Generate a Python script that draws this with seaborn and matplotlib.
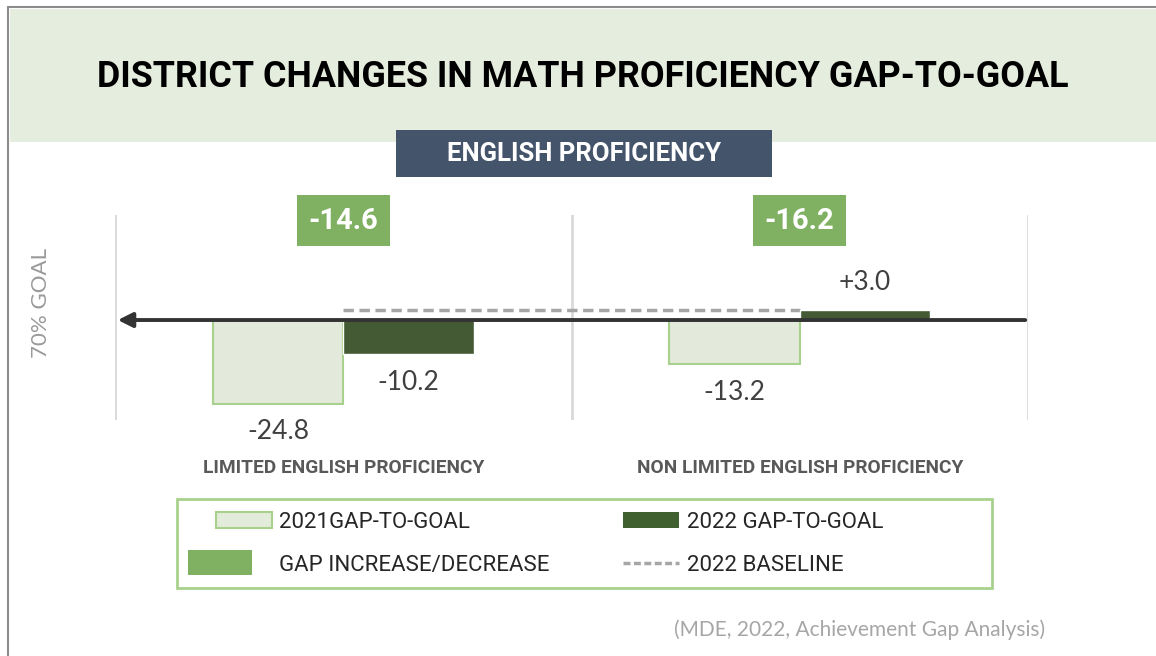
import seaborn as sns
import matplotlib.pyplot as plt
import pandas as pd
from matplotlib.patches import Patch, Rectangle
from matplotlib.lines import Line2D
from matplotlib.legend_handler import HandlerPatch

# data
categories = ['LIMITED ENGLISH PROFICIENCY', 'NON LIMITED ENGLISH PROFICIENCY']
series = ['2021GAP-TO-GOAL', '2022 GAP-TO-GOAL']
gap_2021 = [-24.8, -13.2]
gap_2022 = [-10.2, 3.0]
gap_change = [-14.6, -16.2]
baseline_2022 = 3.0

df = pd.DataFrame({
    'category': categories * 2,
    'series': [series[0]] * 2 + [series[1]] * 2,
    'value': gap_2021 + gap_2022,
})

light = '#E3ECDA'
light_edge = '#A9D18E'
dark = '#41602F'
mid = '#80B062'
slate = '#44546A'
narrow = ['Roboto', 'DejaVu Sans']

sns.set_theme(style='white')
plt.rcParams['font.family'] = ['Lato', 'DejaVu Sans']

W, H = 1156, 656
fig = plt.figure(figsize=(W / 100, H / 100), dpi=100)


def fx(px):
    return px / W


def fy(py):
    return 1 - py / H


# page frame, header band and subtitle box
fig.add_artist(Line2D([fx(8), 1], [fy(7), fy(7)], color='#8C8C8C', lw=1.5))
fig.add_artist(Line2D([fx(8), fx(8)], [fy(7), 0], color='#8C8C8C', lw=1.5))
fig.patches.append(Rectangle((fx(10), fy(142)), 1 - fx(10), fy(9) - fy(142),
                             transform=fig.transFigure, facecolor='#E5EDDF', edgecolor='none'))
fig.text(fx(583), fy(77), 'DISTRICT CHANGES IN MATH PROFICIENCY GAP-TO-GOAL', ha='center', va='center',
         fontsize=25.8, fontweight='bold', color='black', family=narrow)
fig.patches.append(Rectangle((fx(396), fy(177)), fx(376), 47 / H,
                             transform=fig.transFigure, facecolor=slate, edgecolor='none', zorder=3))
fig.text(fx(584), fy(154), 'ENGLISH PROFICIENCY', ha='center', va='center', fontsize=18.5,
         fontweight='bold', color='white', family=narrow, zorder=4)

ax = fig.add_axes([fx(115), fy(420), fx(1028 - 115), 205 / H])
sns.barplot(data=df, x='category', y='value', hue='series', order=categories, hue_order=series,
            palette={series[0]: light, series[1]: dark}, width=0.572, errorbar=None,
            legend=False, ax=ax, zorder=3)
for bar in ax.containers[0]:
    bar.set_edgecolor(light_edge)
    bar.set_linewidth(1.5)

for c, vals in zip(ax.containers, [gap_2021, gap_2022]):
    ax.bar_label(c, labels=[f'{v:+.1f}' if v > 0 else f'{v:.1f}' for v in vals], padding=11,
                 fontsize=19, color='#404040')

ax.set_xlim(-0.5, 1.5)
ax.set_ylim(-29.7, 31.2)
for x in [-0.5, 0.5, 1.5]:
    ax.axvline(x, color='#D9D9D9', lw=2, zorder=1)
ax.plot([0, 1], [baseline_2022, baseline_2022], color='#A6A6A6', ls=(0, (3, 1.6)), lw=2.5, zorder=2)
ax.annotate('', xy=(-0.5, 0), xytext=(1.5, 0),
            arrowprops=dict(arrowstyle='-|>', color='#333333', lw=2.8, mutation_scale=22), zorder=5)

for i, g in enumerate(gap_change):
    ax.text(i, 0.972, f'{g:.1f}', transform=ax.get_xaxis_transform(), ha='center', va='center',
            fontsize=21, fontweight='bold', color='white', family=narrow, clip_on=False, zorder=6,
            bbox=dict(boxstyle='square,pad=0.4', facecolor=mid, edgecolor='none'))

for s in ax.spines.values():
    s.set_visible(False)
ax.set_yticks([])
ax.set_xlabel('')
ax.set_ylabel('')
ax.tick_params(axis='x', length=0, pad=28)
ax.set_xticks(range(len(categories)))
ax.set_xticklabels(categories, fontsize=13.8, fontweight='bold', color='#595959', family=narrow)

fig.text(fx(41), fy(303), '70% GOAL', rotation=90, ha='center', va='center', fontsize=16,
         color='#9A9A9A')


# legend
def big_box(legend, orig_handle, xdescent, ydescent, width, height, fontsize):
    # the gap swatch is drawn larger and further left than the others
    return Rectangle((-xdescent - 20, -ydescent - 0.25 * height), width + 6, height * 1.6)


fig.patches.append(Rectangle((fx(177), fy(588)), fx(992 - 177), 89 / H, transform=fig.transFigure,
                             facecolor='none', edgecolor=light_edge, lw=2))
gap_handle = Patch(facecolor=mid, edgecolor='none', label='GAP INCREASE/DECREASE')
handles = [
    Patch(facecolor=light, edgecolor=light_edge, lw=1.5, label=series[0]),
    gap_handle,
    Patch(facecolor=dark, edgecolor='none', label=series[1]),
    Line2D([], [], color='#A6A6A6', ls=(0, (2, 1)), lw=2.5, label='2022 BASELINE'),
]
fig.legend(handles=handles, ncol=2, loc='center left', bbox_to_anchor=(fx(205), fy(544)),
           frameon=False, borderpad=0, handlelength=2.5, handleheight=0.7, handletextpad=0.35,
           columnspacing=3.3, labelspacing=1.0, handler_map={gap_handle: HandlerPatch(patch_func=big_box)},
           prop={'family': narrow, 'size': 16})

fig.text(fx(860), fy(630), '(MDE, 2022, Achievement Gap Analysis)', ha='center', va='center',
         fontsize=15, color='#A6A6A6')

fig.savefig('out.png', dpi=100, facecolor='white')
